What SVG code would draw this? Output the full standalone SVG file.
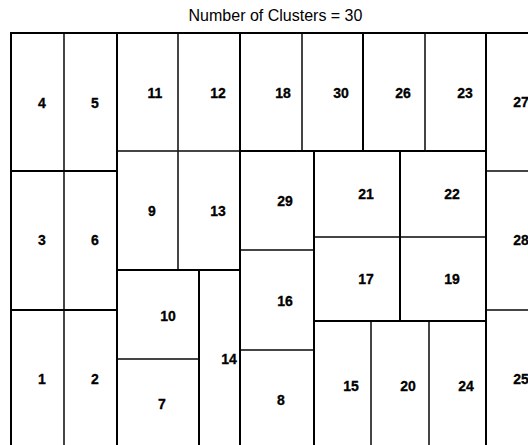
<svg xmlns="http://www.w3.org/2000/svg" width="528" height="445" viewBox="0 0 528 445">
<style>
.bg{fill:#fff}
.c rect{fill:none;stroke:#222;stroke-width:1.2}
.c text{font-family:"Liberation Sans",Arial,sans-serif;font-weight:bold;font-size:14px;text-anchor:middle;fill:#000;stroke:#000;stroke-width:0.3}
.title{font-family:"Liberation Sans",Arial,sans-serif;font-size:16px;text-anchor:middle;fill:#000}
.k{stroke:#000;stroke-width:2;fill:none}
</style>
<rect class="bg" x="0" y="0" width="528" height="445"/>
<text class="title" x="275.5" y="20.5">Number of Clusters = 30</text>
<g id="cells">
<g id="n4" class="c"><rect x="11" y="33" width="53" height="138"/><text x="42" y="108">4</text></g>
<g id="n5" class="c"><rect x="64" y="33" width="53" height="138"/><text x="95" y="108">5</text></g>
<g id="n3" class="c"><rect x="11" y="171" width="53" height="139"/><text x="42" y="245">3</text></g>
<g id="n6" class="c"><rect x="64" y="171" width="53" height="139"/><text x="95" y="245">6</text></g>
<g id="n1" class="c"><rect x="11" y="310" width="53" height="145"/><text x="42" y="384">1</text></g>
<g id="n2" class="c"><rect x="64" y="310" width="53" height="145"/><text x="95" y="384">2</text></g>
<g id="n11" class="c"><rect x="117" y="33" width="61" height="118"/><text x="155" y="98">11</text></g>
<g id="n12" class="c"><rect x="178" y="33" width="62" height="118"/><text x="218" y="98">12</text></g>
<g id="n9" class="c"><rect x="117" y="151" width="61" height="119"/><text x="152" y="216">9</text></g>
<g id="n13" class="c"><rect x="178" y="151" width="62" height="119"/><text x="218" y="216">13</text></g>
<g id="n10" class="c"><rect x="117" y="270" width="82" height="89"/><text x="168" y="321">10</text></g>
<g id="n7" class="c"><rect x="117" y="359" width="82" height="96"/><text x="162" y="409">7</text></g>
<g id="n14" class="c"><rect x="199" y="270" width="41" height="185"/><text x="229" y="364">14</text></g>
<g id="n18" class="c"><rect x="240" y="33" width="62" height="118"/><text x="283" y="98">18</text></g>
<g id="n30" class="c"><rect x="302" y="33" width="61" height="118"/><text x="341" y="98">30</text></g>
<g id="n26" class="c"><rect x="363" y="33" width="62" height="118"/><text x="403" y="98">26</text></g>
<g id="n23" class="c"><rect x="425" y="33" width="61" height="118"/><text x="465" y="98">23</text></g>
<g id="n29" class="c"><rect x="240" y="151" width="74" height="99"/><text x="285" y="206">29</text></g>
<g id="n16" class="c"><rect x="240" y="250" width="74" height="100"/><text x="285" y="306">16</text></g>
<g id="n8" class="c"><rect x="240" y="350" width="74" height="105"/><text x="281" y="405">8</text></g>
<g id="n21" class="c"><rect x="314" y="151" width="86" height="86"/><text x="366" y="199">21</text></g>
<g id="n22" class="c"><rect x="400" y="151" width="86" height="86"/><text x="452" y="199">22</text></g>
<g id="n17" class="c"><rect x="314" y="237" width="86" height="84"/><text x="366" y="284">17</text></g>
<g id="n19" class="c"><rect x="400" y="237" width="86" height="84"/><text x="452" y="284">19</text></g>
<g id="n15" class="c"><rect x="314" y="321" width="57" height="134"/><text x="351" y="391">15</text></g>
<g id="n20" class="c"><rect x="371" y="321" width="58" height="134"/><text x="408" y="391">20</text></g>
<g id="n24" class="c"><rect x="429" y="321" width="57" height="134"/><text x="466" y="391">24</text></g>
<g id="n27" class="c"><rect x="486" y="33" width="60" height="138"/><text x="521" y="107">27</text></g>
<g id="n28" class="c"><rect x="486" y="171" width="60" height="139"/><text x="521" y="245">28</text></g>
<g id="n25" class="c"><rect x="486" y="310" width="60" height="145"/><text x="521" y="384">25</text></g>
</g>
<g id="connectors">
<path class="k" d="M11 455V33H540M117 33V455M240 33V455M363 33V151M486 33V455M240 151H486M117 270H240M199 270V455M314 151V455M314 321H486M400 151V321M11 171H117M11 310H117"/>
</g>
</svg>
